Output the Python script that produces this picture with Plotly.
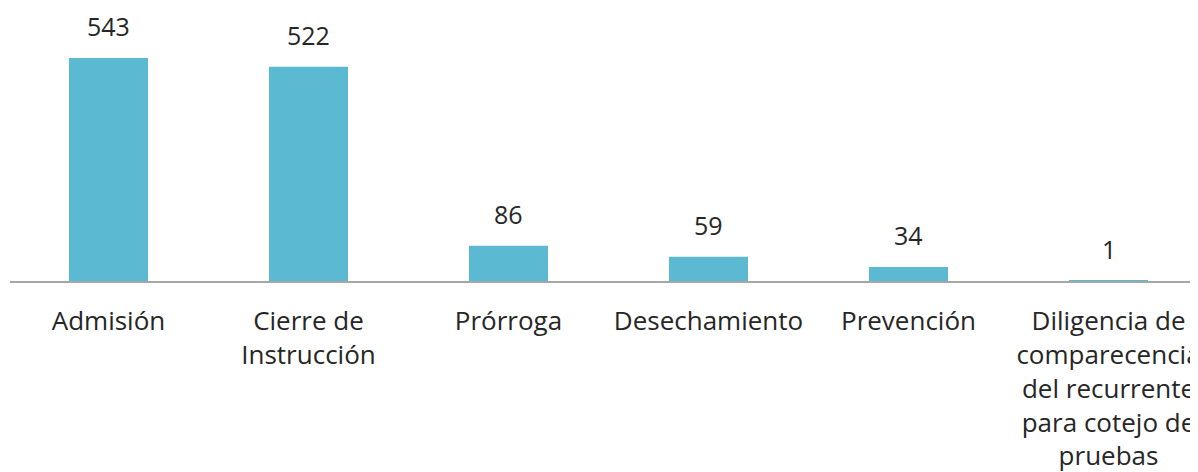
import plotly.graph_objects as go

categories = ["Admisión", "Cierre de<br>Instrucción", "Prórroga", "Desechamiento",
              "Prevención", "Diligencia de<br>comparecencia<br>del recurrente<br>para cotejo de<br>pruebas"]
values = [543, 522, 86, 59, 34, 1]

# page body has an 8px margin, so the figure is sized to fit the window
W, H = 1190, 464
ml, mb = 2, 191
plot_w = W - ml
spacing = 200.0
x_lo = -0.4925
x_hi = x_lo + plot_w / spacing

fig = go.Figure()
fig.add_trace(go.Bar(
    x=list(range(len(values))), y=values, width=0.395,
    marker=dict(color="#5bb9d2", line=dict(width=0)),
    hoverinfo="skip",
))
for i, v in enumerate(values):
    fig.add_annotation(x=i, y=v, text=str(v), showarrow=False, yanchor="bottom",
                       yshift=13, font=dict(family="Open Sans", size=25, color="#262626"))

fig.update_layout(
    width=W, height=H,
    margin=dict(l=ml, r=0, t=0, b=mb, autoexpand=False),
    plot_bgcolor="white", paper_bgcolor="white",
    showlegend=False,
    font=dict(family="Open Sans", size=26, color="#262626"),
    xaxis=dict(range=[x_lo, x_hi], tickmode="array", tickvals=list(range(len(values))),
               ticktext=categories, showline=True, linecolor="#a6a6a6", linewidth=2,
               showgrid=False, zeroline=False, ticks="", ticklabelstandoff=16,
               ticklabeloverflow="allow", automargin=False,
               tickfont=dict(family="Open Sans", size=26, color="#262626")),
    yaxis=dict(range=[0, 665], visible=False, showgrid=False, zeroline=False,
               automargin=False),
)
fig.write_html("out.html")
